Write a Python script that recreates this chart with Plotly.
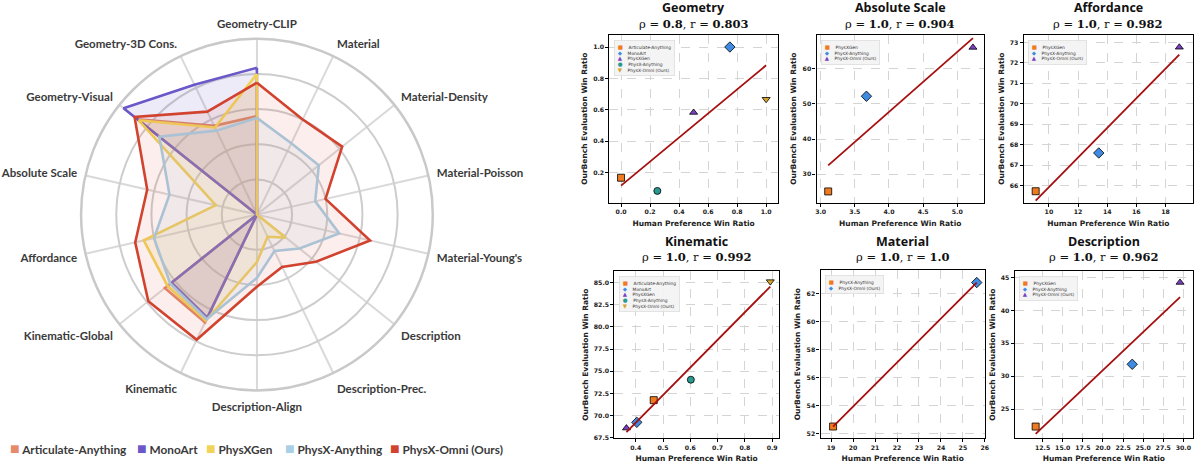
import numpy as np
import plotly.graph_objects as go

W, H = 1199, 463

# ---------------- Radar data ----------------
radar_categories = ["Geometry-CLIP", "Material", "Material-Density", "Material-Poisson",
                    "Material-Young's", "Description", "Description-Prec.", "Description-Align",
                    "Kinematic", "Kinematic-Global", "Affordance", "Absolute Scale",
                    "Geometry-Visual", "Geometry-3D Cons."]
radar_models = ["Articulate-Anything", "MonoArt", "PhysXGen", "PhysX-Anything", "PhysX-Omni (Ours)"]
articulate_anything = [56, 0, 0, 0, 0, 0, 0, 0, 68, 67, 0, 0, 87, 56]
monoart = [83.5, 0, 0, 0, 0, 0, 0, 0, 65, 62, 0, 0, 97, 82]
physxgen = [80, 0, 0, 0, 0, 21, 14, 27, 67, 65, 66, 24, 86, 55]
physx_anything = [55, 45, 45, 34, 48, 31, 23, 36, 66, 63, 60, 51, 71, 53]
physx_omni = [75, 60, 62, 40, 66, 43, 33, 41, 79, 79, 71, 64, 89, 65]
radar_values = [articulate_anything, monoart, physxgen, physx_anything, physx_omni]
radar_colors = ["#e58a6b", "#6a57c8", "#f1d35a", "#a7cfe5", "#d2432f"]
radar_fills = ["rgba(229,138,107,0.13)", "rgba(106,87,200,0.12)", "rgba(241,211,90,0.13)",
               "rgba(167,207,229,0.13)", "rgba(210,67,47,0.09)"]

# ---------------- Scatter panels data ----------------
panel_titles = ["Geometry", "Absolute Scale", "Affordance", "Kinematic", "Material", "Description"]
panel_rho = ["0.8", "1.0", "1.0", "1.0", "1.0", "1.0"]
panel_r = ["0.803", "0.904", "0.982", "0.992", "1.0", "0.962"]

geometry_models = ["Articulate-Anything", "MonoArt", "PhysXGen", "PhysX-Anything", "PhysX-Omni (Ours)"]
geometry_human = [0.0, 0.75, 0.5, 0.25, 1.0]
geometry_bench = [0.167, 1.0, 0.583, 0.083, 0.667]

absscale_models = ["PhysXGen", "PhysX-Anything", "PhysX-Omni (Ours)"]
absscale_human = [3.11, 3.67, 5.23]
absscale_bench = [25.1, 52.2, 66.1]

affordance_models = ["PhysXGen", "PhysX-Anything", "PhysX-Omni (Ours)"]
affordance_human = [9.09, 13.42, 18.95]
affordance_bench = [65.72, 67.59, 72.76]

kinematic_models = ["Articulate-Anything", "MonoArt", "PhysXGen", "PhysX-Anything", "PhysX-Omni (Ours)"]
kinematic_human = [0.466, 0.404, 0.366, 0.602, 0.893]
kinematic_bench = [71.75, 69.25, 68.6, 74.05, 85.1]

material_models = ["PhysX-Anything", "PhysX-Omni (Ours)"]
material_human = [19.09, 25.63]
material_bench = [52.5, 62.8]

description_models = ["PhysXGen", "PhysX-Anything", "PhysX-Omni (Ours)"]
description_human = [11.63, 23.64, 29.59]
description_bench = [22.33, 31.8, 44.24]

panel_models = [geometry_models, absscale_models, affordance_models,
                kinematic_models, material_models, description_models]
panel_x = [geometry_human, absscale_human, affordance_human,
           kinematic_human, material_human, description_human]
panel_y = [geometry_bench, absscale_bench, affordance_bench,
           kinematic_bench, material_bench, description_bench]

# axis settings (ranges and ticks)
panel_xrange = [[-0.08, 1.08], [2.94, 5.39], [8.27, 19.89], [0.322, 0.924], [18.52, 26.0], [9.03, 31.2]]
panel_yrange = [[0.008, 1.078], [21.9, 69.7], [65.16, 73.37], [67.47, 86.27], [51.67, 63.68], [20.57, 45.95]]
panel_xticks = [[0.0, 0.2, 0.4, 0.6, 0.8, 1.0], [3.0, 3.5, 4.0, 4.5, 5.0], [10, 12, 14, 16, 18],
                [0.4, 0.5, 0.6, 0.7, 0.8, 0.9], [19, 20, 21, 22, 23, 24, 25, 26],
                [12.5, 15.0, 17.5, 20.0, 22.5, 25.0, 27.5, 30.0]]
panel_yticks = [[0.2, 0.4, 0.6, 0.8, 1.0], [30, 40, 50, 60], [66, 67, 68, 69, 70, 71, 72, 73],
                [67.5, 70.0, 72.5, 75.0, 77.5, 80.0, 82.5, 85.0], [52, 54, 56, 58, 60, 62],
                [25, 30, 35, 40, 45]]
panel_xfmt = [".1f", ".1f", "d", ".1f", "d", ".1f"]
panel_yfmt = [".1f", "d", "d", ".1f", "d", "d"]

marker_symbols = ["square", "diamond", "triangle-up", "circle", "triangle-down"]
marker_glyphs = ["■", "◆", "▲", "●", "▼"]
marker_colors = ["#ef7a1f", "#3f8be2", "#7a3fc2", "#2a9a90", "#d6a42b"]
marker_sizes = [7, 8, 7, 7, 7]

# pixel boxes of the panels (left, right, top, bottom)
panel_px = [(611, 780, 35, 204), (819, 987, 35, 204), (1027, 1197, 35, 204),
            (616, 781, 273, 441), (823, 988, 272, 441), (1018, 1197, 273, 441)]

fig = go.Figure()

# ---------------- Radar ----------------
for name, vals, col, fc in zip(radar_models, radar_values, radar_colors, radar_fills):
    fig.add_trace(go.Scatterpolar(
        r=vals + [vals[0]], theta=radar_categories + [radar_categories[0]],
        mode="lines", fill="toself", fillcolor=fc,
        line=dict(color=col, width=2.6), name=name, showlegend=False,
        hoverinfo="skip"))

# ---------------- Scatter panels ----------------
annotations = []
layout_axes = {}
for i in range(6):
    k = i + 1
    sfx = "" if k == 1 else str(k)
    xs = panel_x[i]
    ys = panel_y[i]
    for j, (mx, my) in enumerate(zip(xs, ys)):
        fig.add_trace(go.Scatter(
            x=[mx], y=[my], mode="markers", xaxis=f"x{sfx}", yaxis=f"y{sfx}",
            marker=dict(symbol=marker_symbols[j], color=marker_colors[j], size=marker_sizes[j],
                        line=dict(color="black", width=0.8)),
            name=panel_models[i][j], showlegend=False))
    slope, intercept = np.polyfit(xs, ys, 1)
    lx = np.array([min(xs), max(xs)])
    fig.add_trace(go.Scatter(x=lx, y=slope * lx + intercept, mode="lines",
                             xaxis=f"x{sfx}", yaxis=f"y{sfx}",
                             line=dict(color="#a50f0f", width=1.8), showlegend=False))
    l, r, t, b = panel_px[i]
    xd = [l / W, r / W]
    yd = [1 - b / H, 1 - t / H]
    common = dict(showline=True, mirror=True, linecolor="black", linewidth=1.2,
                  ticks="outside", ticklen=3, tickwidth=1, tickcolor="black",
                  showgrid=True, gridcolor="#d4d4d4", gridwidth=0.8, griddash="dash",
                  zeroline=False,
                  tickfont=dict(family="DejaVu Sans", size=6.2, color="#222", weight="bold"))
    layout_axes[f"xaxis{sfx}"] = dict(common, domain=xd, anchor=f"y{sfx}", range=panel_xrange[i],
                                      tickvals=panel_xticks[i], tickformat=panel_xfmt[i],
                                      title=dict(text="Human Preference Win Ratio", standoff=6,
                                                 font=dict(family="DejaVu Sans", size=7.5,
                                                           color="#222", weight="bold")))
    layout_axes[f"yaxis{sfx}"] = dict(common, domain=yd, anchor=f"x{sfx}", range=panel_yrange[i],
                                      tickvals=panel_yticks[i], tickformat=panel_yfmt[i],
                                      title=dict(text="OurBench Evaluation Win Ratio", standoff=4,
                                                 font=dict(family="DejaVu Sans", size=7.5,
                                                           color="#222", weight="bold")))
    cx = (l + r) / 2 / W
    ty = 8 if i < 3 else 243
    annotations.append(dict(text=f"<b>{panel_titles[i]}</b>", x=cx, y=1 - ty / H, xref="paper",
                            yref="paper", showarrow=False, xanchor="center", yanchor="middle",
                            font=dict(family="Open Sans", size=12.5, color="#111")))
    annotations.append(dict(text=f"ρ = <b>{panel_rho[i]}</b>, r = <b>{panel_r[i]}</b>",
                            x=cx, y=1 - (ty + 16) / H, xref="paper", yref="paper",
                            showarrow=False, xanchor="center", yanchor="middle",
                            font=dict(family="DejaVu Serif", size=11.5, color="#111")))
    lines = [f'<span style="color:{marker_colors[j]};font-size:5.5px">{marker_glyphs[j]}</span>'
             f'&nbsp;&nbsp;&nbsp;&nbsp;{m}' for j, m in enumerate(panel_models[i])]
    annotations.append(dict(text="<br>".join(lines), x=0.025, y=0.97,
                            xref=f"x{sfx} domain", yref=f"y{sfx} domain", showarrow=False,
                            xanchor="left", yanchor="top", align="left",
                            bgcolor="rgba(243,243,243,0.92)", bordercolor="#dedede",
                            borderwidth=0.8, borderpad=3,
                            font=dict(family="DejaVu Sans", size=4.4, color="#333")))

# radar legend
legend_px = [7, 135, 204, 283, 389]
for name, col, px in zip(radar_models, radar_colors, legend_px):
    annotations.append(dict(
        text=f'<span style="color:{col};font-size:16px">■</span> {name}',
        x=px / W, y=1 - 450 / H, xref="paper", yref="paper", showarrow=False,
        xanchor="left", yanchor="middle",
        font=dict(family="Lato", size=11.8, color="#3a3a3a", weight="bold")))

fig.update_layout(
    width=W, height=H, margin=dict(l=0, r=0, t=0, b=0),
    paper_bgcolor="white", plot_bgcolor="white", showlegend=False,
    polar=dict(
        domain=dict(x=[80 / W, 434 / W], y=[1 - 393 / H, 1 - 39 / H]),
        bgcolor="white",
        angularaxis=dict(direction="clockwise", rotation=90,
                         categoryorder="array", categoryarray=radar_categories,
                         showline=True, linecolor="#c9c9c9", linewidth=2.5,
                         gridcolor="#d9d9d9", gridwidth=1.5,
                         ticks="outside", ticklen=5, tickcolor="rgba(0,0,0,0)",
                         tickfont=dict(family="Lato", size=11.5, color="#3a3a3a", weight="bold")),
        radialaxis=dict(range=[0, 100], tickvals=[20, 40, 60, 80], showticklabels=False,
                        ticks="", showline=False, gridcolor="#cdcdcd", gridwidth=1.6),
    ),
    annotations=annotations,
    **layout_axes,
)

fig.write_html("out.html", config={"displayModeBar": False},
               post_script="document.body.style.margin='0';")
